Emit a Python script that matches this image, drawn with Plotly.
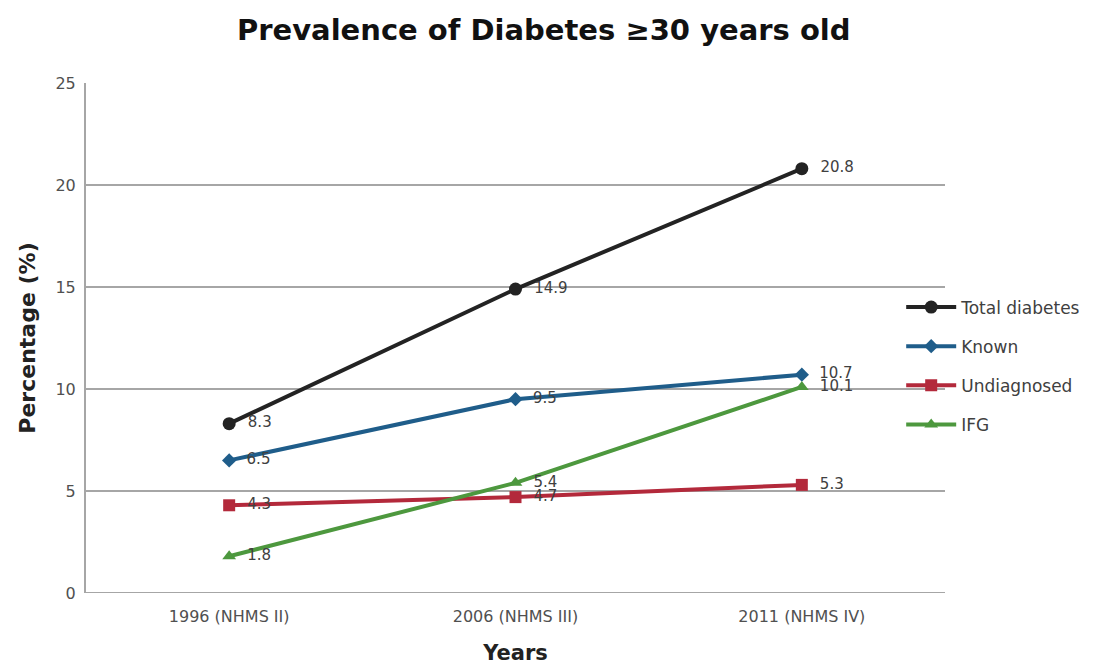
import plotly.graph_objects as go

categories = ["1996 (NHMS II)", "2006 (NHMS III)", "2011 (NHMS IV)"]
total = [8.3, 14.9, 20.8]
known = [6.5, 9.5, 10.7]
undiagnosed = [4.3, 4.7, 5.3]
ifg = [1.8, 5.4, 10.1]

series = [
    ("Total diabetes", total, "#232323", "circle", 13),
    ("Known", known, "#1f5d8a", "diamond", 11),
    ("Undiagnosed", undiagnosed, "#b3293b", "square", 12),
    ("IFG", ifg, "#4d983e", "triangle-up", 12),
]

FONT = "DejaVu Sans"

fig = go.Figure()
for name, vals, color, sym, size in series:
    fig.add_trace(go.Scatter(
        x=categories, y=vals, name=name, mode="lines+markers+text",
        legendgroup=name,
        line=dict(color=color, width=4),
        marker=dict(symbol=sym, size=size, color=color),
        text=[f"  {v:.1f}" for v in vals], textposition="middle right",
        textfont=dict(size=15, color="#404040", family=FONT),
        cliponaxis=False,
    ))

fig.update_layout(
    width=1103, height=666,
    margin=dict(l=86, r=158, t=83, b=73),
    paper_bgcolor="white", plot_bgcolor="white",
    font=dict(family=FONT, color="#404040"),
    title=dict(text="<b>Prevalence of Diabetes ≥30 years old</b>",
               x=0.493, xanchor="center", y=0.955, yanchor="middle",
               font=dict(size=29, color="#111111", family=FONT)),
    xaxis=dict(showgrid=False, showline=False, ticks="", range=[-0.5, 2.5],
               automargin=False,
               tickfont=dict(size=16, color="#505050"), ticklabelstandoff=12,
               title=dict(text="<b>Years</b>", font=dict(size=21, color="#222222"), standoff=20)),
    yaxis=dict(range=[0, 25], dtick=5, showgrid=True, gridcolor="#a6a6a6", gridwidth=2,
               showline=True, linecolor="#a6a6a6", linewidth=2, zeroline=False,
               tickfont=dict(size=16, color="#505050"), ticks="", ticklabelstandoff=5,
               title=dict(text="<b>Percentage (%)</b>", font=dict(size=22, color="#222222"), standoff=14)),
    legend=dict(x=0.949, xanchor="left", y=0.595, yanchor="top",
                font=dict(size=17, color="#404040", family=FONT),
                tracegroupgap=14, itemwidth=50, bgcolor="rgba(0,0,0,0)"),
    showlegend=True,
)
fig.add_shape(type="line", xref="paper", yref="y", x0=0, x1=1, y0=0, y1=0,
              line=dict(color="#a6a6a6", width=2), layer="below")

fig.write_html("out.html")
